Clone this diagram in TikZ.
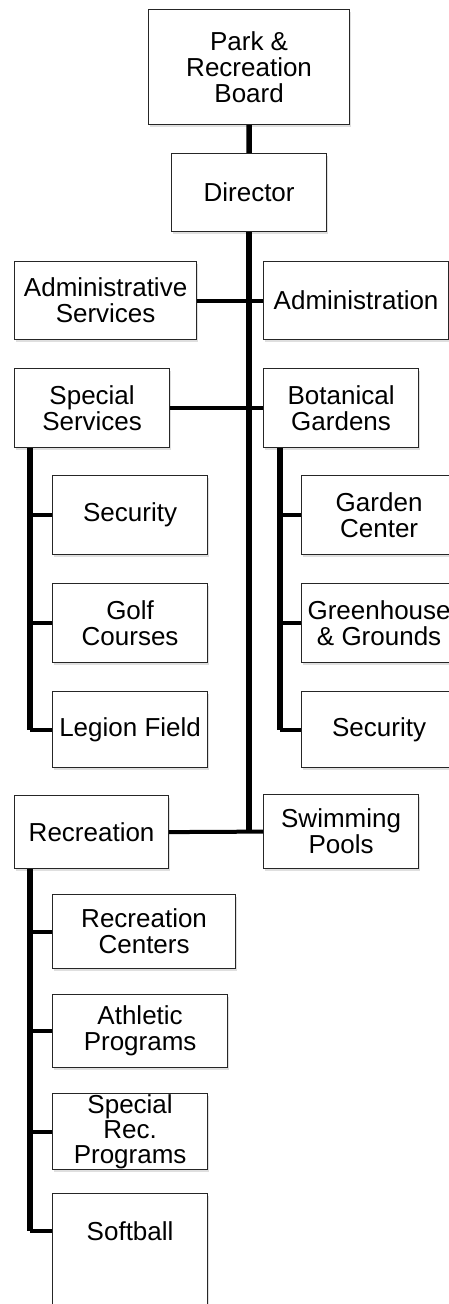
\documentclass[tikz,border=0pt]{standalone}
\usepackage{fontspec}
\setmainfont{Liberation Sans}
\usepackage{tikz}
\usetikzlibrary{shadows}

\tikzset{
	unit/.style={draw=black!85, line width=1.2bp, fill=white, anchor=north west,
		align=center, inner sep=1bp, font=\fontsize{26bp}{26bp}\selectfont,
		drop shadow={shadow xshift=1bp, shadow yshift=-2.5bp, opacity=0.25}},
	trunk/.style={line width=5.5bp},
	branch/.style={line width=4bp}
}

\begin{document}
\begin{tikzpicture}[x=1bp,y=-1bp]
	\useasboundingbox (0,0) rectangle (449,1304);
	\clip (0,0) rectangle (449,1304);

	% top of the chart
	\node[unit, minimum width=201bp, minimum height=115bp] (board) at (148,9) {Park \&\\Recreation\\Board};
	\node[unit, minimum width=155bp, minimum height=78bp] (dir) at (171,153) {Director};

	% divisions on both sides of the main line
	\node[unit, minimum width=182bp, minimum height=78bp] (adminsv) at (14,261) {Administrative\\Services};
	\node[unit, minimum width=185bp, minimum height=78bp] (admin) at (263,261) {Administration};
	\node[unit, minimum width=155bp, minimum height=79bp] (specsv) at (14,368) {Special\\Services};
	\node[unit, minimum width=155bp, minimum height=79bp] (botan) at (263,368) {Botanical\\Gardens};
	\node[unit, minimum width=154bp, minimum height=73bp] (recr) at (14,795) {Recreation};
	\node[unit, minimum width=155bp, minimum height=74bp] (swim) at (263,794) {Swimming\\Pools};

	% special services
	\node[unit, minimum width=155bp, minimum height=79bp] (sec1) at (52,475) {Security};
	\node[unit, minimum width=155bp, minimum height=79bp] (golf) at (52,583) {Golf\\Courses};
	\node[unit, minimum width=155bp, minimum height=76bp] (legion) at (52,691) {Legion Field};

	% botanical gardens
	\node[unit, minimum width=155bp, minimum height=79bp] (garden) at (301,475) {Garden\\Center};
	\node[unit, minimum width=155bp, minimum height=79bp] (green) at (301,583) {Greenhouse\\\& Grounds};
	\node[unit, minimum width=155bp, minimum height=76bp] (sec2) at (301,691) {Security};

	% recreation
	\node[unit, minimum width=183bp, minimum height=74bp] (rcent) at (52,894) {Recreation\\Centers};
	\node[unit, minimum width=175bp, minimum height=73bp] (athl) at (52,994) {Athletic\\Programs};
	\node[unit, minimum width=155bp, minimum height=74bp, font=\fontsize{26bp}{25bp}\selectfont] (sprec) at (52,1093) {Special\\Rec.\\Programs};
	\node[unit, minimum width=155bp, inner ysep=0pt, text height=47bp, text depth=90bp] (soft) at (52,1193) {Softball};

	% main line
	\draw[trunk] (board.south) -- (dir.north);
	\draw[trunk] (dir.south) -- (dir.south |- recr.east);
	\draw[branch] (adminsv.east) -- (admin.west);
	\draw[branch] (specsv.east) -- (botan.west);
	\draw[branch] (recr.east) -- (swim.west);

	% side lines
	\coordinate (sst) at ([xshift=16bp]specsv.south west);
	\coordinate (bgt) at ([xshift=17bp]botan.south west);
	\coordinate (rct) at ([xshift=16bp]recr.south west);
	\coordinate (sbjoin) at ([yshift=-38bp]soft.north west);

	\draw[trunk] (sst) -- (sst |- legion.west);
	\foreach \n in {sec1,golf,legion}
		\draw[branch] (sst |- \n.west) -- (\n.west);

	\draw[trunk] (bgt) -- (bgt |- sec2.west);
	\foreach \n in {garden,green,sec2}
		\draw[branch] (bgt |- \n.west) -- (\n.west);

	\draw[trunk] (rct) -- (rct |- sbjoin);
	\foreach \n in {rcent,athl,sprec}
		\draw[branch] (rct |- \n.west) -- (\n.west);
	\draw[branch] (rct |- sbjoin) -- (sbjoin);
\end{tikzpicture}
\end{document}
